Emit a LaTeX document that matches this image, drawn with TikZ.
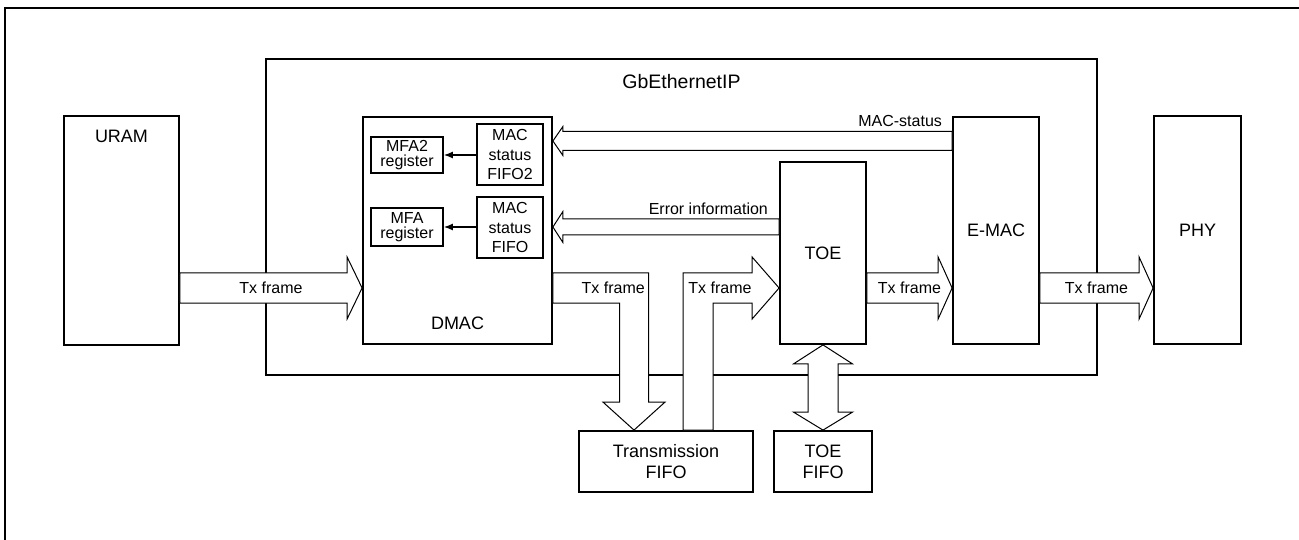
\documentclass[tikz,border=0pt]{standalone}
\usepackage{fontspec}
\setmainfont{Liberation Sans}
\usetikzlibrary{calc,backgrounds,arrows.meta}

% hollow block arrow: from, to, row, shaft half width, head half width, head offset
\newcommand{\hollowarrow}[6]{%
  \draw[blk] ($(#1 |- #3)+(0,-#4)$) -- ($(#2 |- #3)+(#6,-#4)$)
    -- ($(#2 |- #3)+(#6,-#5)$) -- (#2 |- #3) -- ($(#2 |- #3)+(#6,#5)$)
    -- ($(#2 |- #3)+(#6,#4)$) -- ($(#1 |- #3)+(0,#4)$) -- cycle;}

\begin{document}
\begin{tikzpicture}[x=1pt, y=-1pt,
        >={Latex[length=9pt,width=7pt]},   % Pfeilspitzen
        box/.style={draw, line width=1.8pt, inner sep=0pt, fill=white},
        blk/.style={draw, fill=white, line width=1pt},
        big/.style={font=\fontsize{18}{21}\selectfont, align=center},
        ttl/.style={font=\fontsize{19.5}{22}\selectfont},
        lbl/.style={font=\fontsize{16}{19}\selectfont, inner sep=0pt, align=center},
        lbltwo/.style={font=\fontsize{16}{15.5}\selectfont, align=center},
        lblthree/.style={font=\fontsize{16}{19.5}\selectfont, align=center}]
    \useasboundingbox (0,0) rectangle (1299,540);
    % Rahmen
    \draw[line width=2pt] (5,8) rectangle (1340,580);
    % GbEthernetIP hinter den Pfeilen
    \begin{pgfonlayer}{background}
        \node[box, minimum width=831pt, minimum height=316pt] (gbe) at (681.5,217) {};
    \end{pgfonlayer}
    \node[ttl] at ([yshift=-23pt]gbe.north) {GbEthernetIP};
    % Bloecke
    \node[box, minimum width=115pt, minimum height=229pt] (uram) at (121.5,230.5) {};
    \node[big] at ([yshift=-21pt]uram.north) {URAM};
    \node[box, minimum width=189pt, minimum height=227pt] (dmac) at (457.5,230.5) {};
    \node[big] at ([yshift=22pt]dmac.south) {DMAC};
    \node[box, lbltwo, minimum width=72pt, minimum height=36pt] (mfatwo) at (407,155) {MFA2\\register};
    \node[box, lblthree, minimum width=66pt, minimum height=61pt] (fifotwo) at (510,154.5) {MAC\\status\\FIFO2};
    \node[box, lbltwo, minimum width=72pt, minimum height=38pt] (mfa) at (407,227) {MFA\\register};
    \node[box, lblthree, minimum width=66pt, minimum height=61pt] (fifo) at (510,227.5) {MAC\\status\\FIFO};
    \node[box, big, minimum width=86pt, minimum height=182pt] (toe) at (823,253) {TOE};
    \node[box, big, minimum width=86pt, minimum height=227pt] (emac) at (996,230.5) {E-MAC};
    \node[box, big, minimum width=87pt, minimum height=228pt] (phy) at (1197.5,230) {PHY};
    \node[box, big, minimum width=174pt, minimum height=61pt] (txfifo) at (666,461.5) {Transmission\\FIFO};
    \node[box, big, minimum width=98pt, minimum height=61pt] (toefifo) at (823,461.5) {TOE\\FIFO};
    % Hilfspunkte
    \coordinate (txrow) at (0,288);
    \coordinate (statrow) at (0,141);
    \coordinate (errrow) at (0,227);
    \coordinate (dncol) at (634,0);
    \coordinate (upcol) at (698,0);
    % Blockpfeile
    \hollowarrow{uram.east}{dmac.west}{txrow}{15}{31}{-15}
    \hollowarrow{toe.east}{emac.west}{txrow}{15}{31}{-14}
    \hollowarrow{emac.east}{phy.west}{txrow}{15}{31}{-14}
    \hollowarrow{emac.west}{dmac.east}{statrow}{9.5}{14.5}{10}
    \hollowarrow{toe.west}{dmac.east}{errrow}{8}{15.5}{10}
    \draw[blk] ($(dmac.east |- txrow)+(0,-15)$) -- ($(dncol |- txrow)+(14.5,-15)$)
        -- ($(dncol |- txfifo.north)+(14.5,-28)$) -- ++(16.5,0) -- (dncol |- txfifo.north)
        -- ++(-31,-28) -- ++(16.5,0) -- ($(dncol |- txrow)+(-14.5,15)$)
        -- ($(dmac.east |- txrow)+(0,15)$) -- cycle;
    \draw[blk] ($(upcol |- txfifo.north)+(-15,0)$) -- ($(upcol |- txrow)+(-15,-15)$)
        -- ($(toe.west |- txrow)+(-27,-15)$) -- ++(0,-16) -- (toe.west |- txrow)
        -- ++(-27,31) -- ++(0,-16) -- ($(upcol |- txrow)+(15,15)$)
        -- ($(upcol |- txfifo.north)+(15,0)$) -- cycle;
    \draw[blk] (toe.south) -- ++(29.5,19) -- ++(-14.5,0) -- ($(toefifo.north)+(15,-18)$)
        -- ++(14.5,0) -- (toefifo.north) -- ++(-29.5,-18) -- ++(14.5,0)
        -- ($(toe.south)+(-15,19)$) -- ++(-14.5,0) -- cycle;
    % Beschriftung
    \node[lbl] at ($(uram.east |- txrow)!0.5!(dmac.west |- txrow)$) {Tx frame};
    \node[lbl] at ($(toe.east |- txrow)!0.5!(emac.west |- txrow)$) {Tx frame};
    \node[lbl] at ($(emac.east |- txrow)!0.5!(phy.west |- txrow)$) {Tx frame};
    \node[lbl, anchor=east] at ($(dncol |- txrow)+(11,0)$) {Tx frame};
    \node[lbl] at ($(upcol |- txrow)+(22,0)$) {Tx frame};
    \node[lbl, anchor=base east] at ($(emac.west |- statrow)+(-10,-14)$) {MAC-status};
    \node[lbl, anchor=base east] at ($(toe.west |- errrow)+(-11,-12)$) {Error information};
    % Register
    \draw[->, line width=1.3pt] (fifotwo.west |- mfatwo.east) -- (mfatwo.east);
    \draw[->, line width=1.3pt] (fifo.west |- mfa.east) -- (mfa.east);
\end{tikzpicture}
\end{document}
